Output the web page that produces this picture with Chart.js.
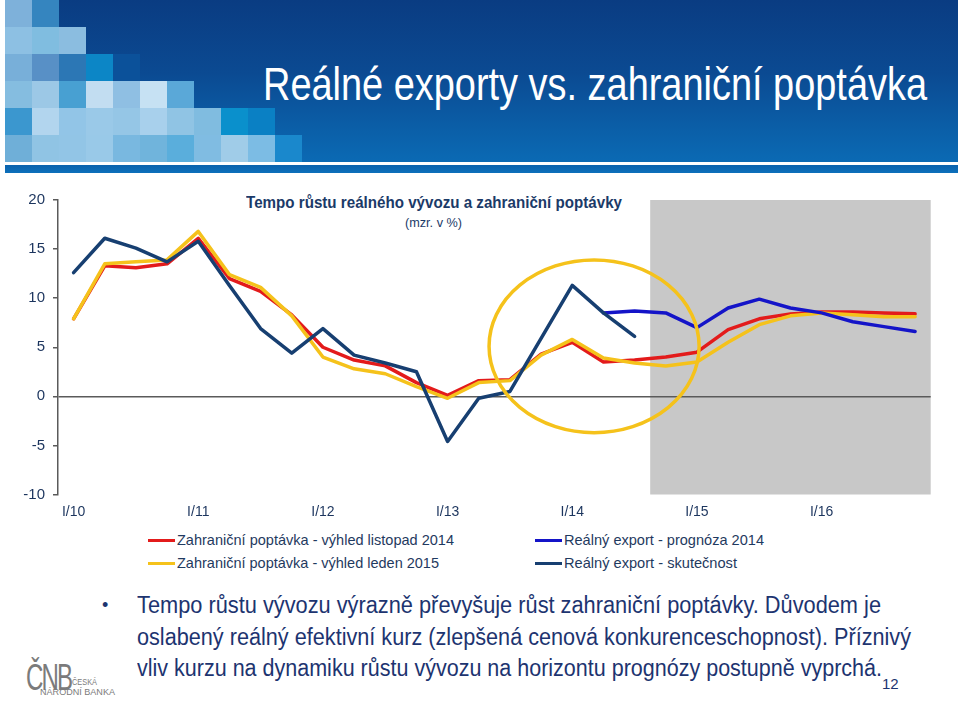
<!DOCTYPE html>
<html>
<head>
<meta charset="utf-8">
<script src="https://cdn.jsdelivr.net/npm/chart.js@4.4.1/dist/chart.umd.min.js"></script>
<style>
  html, body { margin:0; padding:0; background:#fff; }
  body { width:960px; height:701px; position:relative; overflow:hidden; font-family:"Liberation Sans", Arial, sans-serif; }
  .abs { position:absolute; white-space:nowrap; }
  .narrow { font-family:"Liberation Sans", Arial, sans-serif; }
  #header { position:absolute; left:5px; top:0; width:953px; height:162px;
    background:linear-gradient(to bottom, #0a3c82 0%, #0b4a92 45%, #0b5fa8 80%, #0b6ab4 100%); overflow:hidden; }
  #strip { position:absolute; left:5px; top:165px; width:953px; height:8px; background:linear-gradient(to bottom,#0a62ad,#0d70bb); }
  .tile { position:absolute; width:27px; height:27px; }
  #mainTitle { color:#fff; font-size:46px; line-height:46px; top:61px; left:263px; transform-origin:left top; }
  #chartCanvas { position:absolute; left:0; top:180px; }
  .ctitle { color:#1b3a68; }
  .leg { position:absolute; font-size:15px; line-height:16px; color:#1f3a60; white-space:nowrap; }
  .legLine { position:absolute; width:27px; height:3px; }
  .body { color:#1d3470; font-size:23px; line-height:23px; transform-origin:left top; }
</style>
</head>
<body>
<div id="header"></div>
<div id="strip"></div>
<div id="mainTitle" class="abs narrow" data-w="664">Reálné exporty vs. zahraniční poptávka</div>

<div id="cTitle" class="abs narrow ctitle" style="font-weight:bold;font-size:17px;line-height:17px;top:194px;" data-w="376" data-c="434">Tempo růstu reálného vývozu a zahraniční poptávky</div>
<div id="cSub" class="abs ctitle" style="font-size:13px;line-height:13px;top:216px;" data-w="57" data-c="433.5">(mzr. v %)</div>

<canvas id="chartCanvas" width="960" height="345"></canvas>
<div id="legend"></div>

<div class="abs" style="left:102px;top:595px;font-size:18px;color:#1d3470;">•</div>
<div class="abs narrow body" style="left:137px;top:594px;" data-w="744">Tempo růstu vývozu výrazně převyšuje růst zahraniční poptávky. Důvodem je</div>
<div class="abs narrow body" style="left:137px;top:626px;" data-w="774">oslabený reálný efektivní kurz (zlepšená cenová konkurenceschopnost). Příznivý</div>
<div class="abs narrow body" style="left:137px;top:657px;" data-w="745">vliv kurzu na dynamiku růstu vývozu na horizontu prognózy postupně vyprchá.</div>
<div class="abs" style="left:882px;top:676px;font-size:15px;line-height:15px;color:#1d3470;">12</div>

<div class="abs narrow" style="left:26px;top:659px;font-size:37px;line-height:37px;color:#7b7b7b;letter-spacing:-3px;" data-w="45">ČNB</div>
<div class="abs narrow" style="left:72px;top:678px;font-size:9px;line-height:9px;color:#7b7b7b;" data-w="25">ČESKÁ</div>
<div class="abs narrow" style="left:40px;top:688px;font-size:9px;line-height:9px;color:#7b7b7b;" data-w="75">NÁRODNÍ BANKA</div>

<script>
// ---------------- DATA ----------------
const categories = ['I/10','II/10','III/10','IV/10','I/11','II/11','III/11','IV/11',
  'I/12','II/12','III/12','IV/12','I/13','II/13','III/13','IV/13',
  'I/14','II/14','III/14','IV/14','I/15','II/15','III/15','IV/15',
  'I/16','II/16','III/16','IV/16'];

const demandNov2014 = [7.9, 13.3, 13.1, 13.5, 16.1, 12.0, 10.7, 8.3, 5.0, 3.7, 3.1, 1.4, 0.1, 1.6,
  1.7, 4.3, 5.5, 3.5, 3.7, 4.0, 4.5, 6.8, 7.9, 8.4, 8.6, 8.6, 8.5, 8.4];

const demandJan2015 = [7.9, 13.5, 13.7, 13.9, 16.8, 12.4, 11.1, 8.2, 4.0, 2.8, 2.3, 1.0, -0.2, 1.4,
  1.6, 4.2, 5.8, 3.9, 3.4, 3.1, 3.5, 5.5, 7.3, 8.2, 8.5, 8.3, 8.1, 8.1];

const exportForecast2014 = [null, null, null, null, null, null, null, null, null, null, null, null,
  null, null, null, null, null, 8.5, 8.7, 8.5, 7.0, 9.0, 9.9, 9.0, 8.5, 7.6, 7.1, 6.6];

const exportActual = [12.6, 16.1, 15.1, 13.7, 15.8, 11.3, 6.9, 4.4, 6.9, 4.2, 3.4, 2.5, -4.6, -0.2,
  0.5, 5.9, 11.3, 8.5, 6.1];

const yMin = -10, yMax = 20, yStep = 5;
const forecastStart = 'IV/14';           // shaded forecast period begins here
const highlightCenter = 16.7;            // ellipse centre (category position)
const highlightValue = 5.1;              // ellipse centre (value)
const highlightHalfCats = 3.37;          // ellipse half-width in categories
const highlightHalfVal = 8.8;            // ellipse half-height in value units

// ---------------- HEADER MOSAIC ----------------
const mosaic = [
  ['#7eb1da','#3585bf'],
  ['#8dc0e3','#80bde0','#8bbde0'],
  ['#78afd9','#5890c6','#2c77b5','#0c86c6','#0b519a'],
  ['#85bde0','#9cc8e6','#48a0d2','#c2ddf1','#8fbfe3','#c6e1f3','#5aa8d8'],
  ['#3b97cf','#b2d5ee','#92c5e7','#9ac9e8','#95c6e6','#a8d0ec','#90c4e4','#80bce0','#0a90cc','#0a80c4'],
  ['#6fafd8','#90c4e4','#92c5e6','#99c9e8','#79b8e0','#70b4dc','#5aaedc','#80bce2','#a0cce8','#7cbce4','#1a88cc']
];
const header = document.getElementById('header');
mosaic.forEach((row, r) => row.forEach((c, i) => {
  const d = document.createElement('div');
  d.className = 'tile';
  d.style.left = (i * 27) + 'px';
  d.style.top = (r * 27) + 'px';
  d.style.background = c;
  header.appendChild(d);
}));

// ---------------- CHART ----------------
const shadePlugin = {
  id: 'shade',
  beforeDraw(chart) {
    const x = chart.scales.x, a = chart.chartArea, ctx = chart.ctx;
    const idx = categories.indexOf(forecastStart);
    const x0 = (x.getPixelForValue(idx - 1) + x.getPixelForValue(idx)) / 2;
    ctx.save();
    ctx.fillStyle = '#c8c8c8';
    ctx.fillRect(x0, a.top, a.right - x0, a.bottom - a.top);
    ctx.restore();
  }
};
const ellipsePlugin = {
  id: 'ellipse',
  afterDatasetsDraw(chart) {
    const x = chart.scales.x, y = chart.scales.y, ctx = chart.ctx;
    const step = x.getPixelForValue(1) - x.getPixelForValue(0);
    const cx = x.getPixelForValue(0) + step * highlightCenter;
    const cy = y.getPixelForValue(highlightValue);
    const rx = step * highlightHalfCats;
    const ry = Math.abs(y.getPixelForValue(highlightValue + highlightHalfVal) - cy);
    ctx.save();
    ctx.strokeStyle = '#f5c21b';
    ctx.lineWidth = 3.5;
    ctx.beginPath();
    ctx.ellipse(cx, cy, rx, ry, 0, 0, Math.PI * 2);
    ctx.stroke();
    ctx.restore();
  }
};

const series = [
  { label:'Reálný export - skutečnost', data: exportActual, color:'#173f71' },
  { label:'Reálný export - prognóza 2014', data: exportForecast2014, color:'#1414c8' },
  { label:'Zahraniční poptávka - výhled leden 2015', data: demandJan2015, color:'#f5c21b' },
  { label:'Zahraniční poptávka - výhled listopad 2014', data: demandNov2014, color:'#e31b1b' }
];

const axisColor = '#5a5a5a';
const labelColor = '#1c355e';

new Chart(document.getElementById('chartCanvas'), {
  type: 'line',
  data: {
    labels: categories,
    datasets: series.map(s => ({
      label: s.label, data: s.data, borderColor: s.color, backgroundColor: s.color,
      borderWidth: 3.5, pointRadius: 0, tension: 0, spanGaps: false,
      borderCapStyle: 'round', borderJoinStyle: 'round', fill: false
    }))
  },
  options: {
    responsive: false, animation: false, devicePixelRatio: 1,
    layout: { padding: { top: 20, right: 29.3, bottom: 0, left: 0 } },
    plugins: { legend: { display: false }, tooltip: { enabled: false }, title: { display: false } },
    scales: {
      x: {
        type: 'category', offset: true,
        grid: { display: false, drawTicks: false, offset: true },
        border: { display: false },
        ticks: {
          autoSkip: false, maxRotation: 0, minRotation: 0, padding: 9,
          color: labelColor, font: { family: 'Liberation Sans', size: 14 },
          callback: function(v) { const l = this.getLabelForValue(v); return l.startsWith('I/') ? l : ''; }
        },
        afterFit: s => { s.height = 30.5; }
      },
      y: {
        min: yMin, max: yMax,
        ticks: { stepSize: yStep, padding: 8, color: labelColor, font: { family: 'Liberation Sans', size: 15 } },
        grid: {
          color: c => (c.tick && c.tick.value === 0) ? axisColor : 'rgba(0,0,0,0)',
          lineWidth: 1.5, tickColor: axisColor, tickWidth: 1.5, tickLength: 5, drawTicks: true
        },
        border: { display: true, color: axisColor, width: 1.5 },
        afterFit: s => { s.width = 58; }
      }
    }
  },
  plugins: [shadePlugin, ellipsePlugin]
});

// ---------------- LEGEND (HTML, from series) ----------------
const legendPos = [
  { s: series[3], x: 148, y: 540, w: 277 },
  { s: series[1], x: 535, y: 540, w: 200 },
  { s: series[2], x: 148, y: 563, w: 262 },
  { s: series[0], x: 535, y: 563, w: 173 }
];
const legend = document.getElementById('legend');
legendPos.forEach(it => {
  const ln = document.createElement('div');
  ln.className = 'legLine';
  ln.style.left = it.x + 'px'; ln.style.top = (it.y - 1.5) + 'px'; ln.style.background = it.s.color;
  legend.appendChild(ln);
  const t = document.createElement('div');
  t.className = 'leg';
  t.style.left = (it.x + 29) + 'px'; t.style.top = (it.y - 8) + 'px';
  t.dataset.w = it.w;
  t.textContent = it.s.label;
  legend.appendChild(t);
});

// ---------------- TEXT FITTING ----------------
document.querySelectorAll('[data-w]').forEach(el => {
  el.style.display = 'inline-block';
  el.style.transformOrigin = 'left top';
  const w = el.getBoundingClientRect().width;
  const target = parseFloat(el.dataset.w);
  if (el.dataset.c) el.style.left = (parseFloat(el.dataset.c) - target / 2) + 'px';
  el.style.transform = 'scaleX(' + (target / w) + ')';
});
</script>
</body>
</html>
